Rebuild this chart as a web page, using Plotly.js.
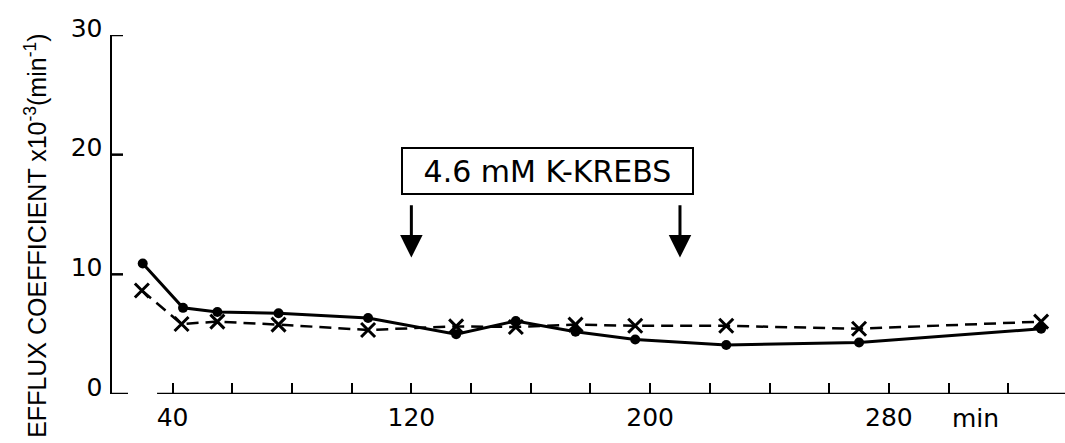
<!DOCTYPE html>
<html>
<head>
<meta charset="utf-8">
<script src="https://cdn.plot.ly/plotly-3.0.1.min.js"></script>
<style>html,body{margin:0;padding:0;background:#fff;}#chart{width:1065px;height:443px;}</style>
</head>
<body>
<div id="chart"></div>
<script>
// Time (min)
const solidTime = [30, 43.5, 55, 75.5, 105.5, 135, 155, 175, 195, 225.5, 270, 331];
// Efflux coefficient x10^-3 (min^-1), filled circles, solid line
const solidValues = [10.9, 7.2, 6.85, 6.75, 6.35, 5.0, 6.1, 5.2, 4.55, 4.1, 4.3, 5.45];
const crossTime = [29.7, 43, 55, 75.5, 105.5, 135, 155, 175, 195, 225.5, 270, 331];
// Efflux coefficient, crosses, dashed line
const crossValues = [8.65, 5.85, 6.05, 5.8, 5.35, 5.65, 5.6, 5.8, 5.7, 5.7, 5.45, 6.05];
const xTickVals = [40, 60, 80, 100, 120, 140, 160, 180, 200, 220, 240, 260, 280, 300, 320];
const xTickText = ['40', '', '', '', '120', '', '', '', '200', '', '', '', '280', '', ''];
const yTickVals = [0, 10, 20, 30];
const yTickText = ['0', '10', '20', '30'];
const arrowTimes = [120, 210];
const boxLabel = '4.6 mM K-KREBS';
const xUnit = 'min';
const yTitle = 'EFFLUX COEFFICIENT x10<sup>-3</sup>(min<sup>-1</sup>)';

const F = 'DejaVu Sans, Arial, sans-serif';

const traces = [
  {x: crossTime, y: crossValues, mode: 'lines+markers', type: 'scatter',
   line: {color: '#000', width: 2.5, dash: '12px,7px'},
   marker: {symbol: 'x-thin', size: 14, line: {color: '#000', width: 3}, color: '#000'},
   cliponaxis: false, showlegend: false},
  {x: solidTime, y: solidValues, mode: 'lines+markers', type: 'scatter',
   line: {color: '#000', width: 3},
   marker: {symbol: 'circle', size: 10, color: '#000'},
   cliponaxis: false, showlegend: false}
];

const annotations = arrowTimes.map(t => ({
  x: t, y: 11.4, ax: t, ay: 15.9, xref: 'x', yref: 'y', axref: 'x', ayref: 'y',
  showarrow: true, arrowhead: 2, arrowsize: 1.5, arrowwidth: 3, arrowcolor: '#000', text: ''
}));
annotations.push({
  x: 165.5, y: 18.67, xref: 'x', yref: 'y', text: boxLabel, showarrow: false,
  font: {family: F, size: 30, color: '#000'},
  bordercolor: '#000', borderwidth: 2, width: 287, height: 42, bgcolor: '#fff'
});
annotations.push({
  x: 309, y: 0, xref: 'x', yref: 'y', yanchor: 'top', text: xUnit, showarrow: false,
  yshift: -8, font: {family: F, size: 25, color: '#000'}
});
annotations.push({
  xref: 'paper', yref: 'paper', x: -0.08, y: 0.44, xanchor: 'center', yanchor: 'middle',
  textangle: -90, showarrow: false, text: yTitle,
  font: {family: 'Liberation Sans, Arial, sans-serif', size: 25, color: '#000'}
});

// short hooks on the y axis (drawn in pixel size from the axis line)
const yHooks = yTickVals.map(v => ({
  type: 'line', xref: 'paper', xsizemode: 'pixel', xanchor: 0,
  x0: v === 0 ? -2 : 0, x1: v === 0 ? 16 : 11, yref: 'y', y0: v, y1: v,
  line: {color: '#000', width: 2.5}
}));

const layout = {
  width: 1065, height: 443,
  margin: {l: 112, r: 0, t: 35, b: 49, pad: 0},
  paper_bgcolor: '#fff', plot_bgcolor: '#fff',
  font: {family: F, color: '#000'},
  xaxis: {range: [19.7, 339], showline: false, zeroline: false, showgrid: false,
          tickmode: 'array', tickvals: xTickVals, ticktext: xTickText,
          ticks: 'inside', ticklen: 11, tickwidth: 2, tickcolor: '#000',
          ticklabelstandoff: 6, tickfont: {family: F, size: 25, color: '#000'}},
  yaxis: {range: [0, 30], showline: true, linewidth: 2.5, linecolor: '#000',
          zeroline: false, showgrid: false,
          tickmode: 'array', tickvals: yTickVals, ticktext: yTickText,
          ticks: '', ticklabelstandoff: 2, ticklabelshift: -7,
          tickfont: {family: F, size: 25, color: '#000'}},
  shapes: [
    {type: 'line', xref: 'x', yref: 'y', x0: 34.8, x1: 339, y0: 0, y1: 0,
     line: {color: '#000', width: 2.5}}
  ].concat(yHooks),
  annotations: annotations
};

Plotly.newPlot('chart', traces, layout, {staticPlot: true, displayModeBar: false});
</script>
</body>
</html>
